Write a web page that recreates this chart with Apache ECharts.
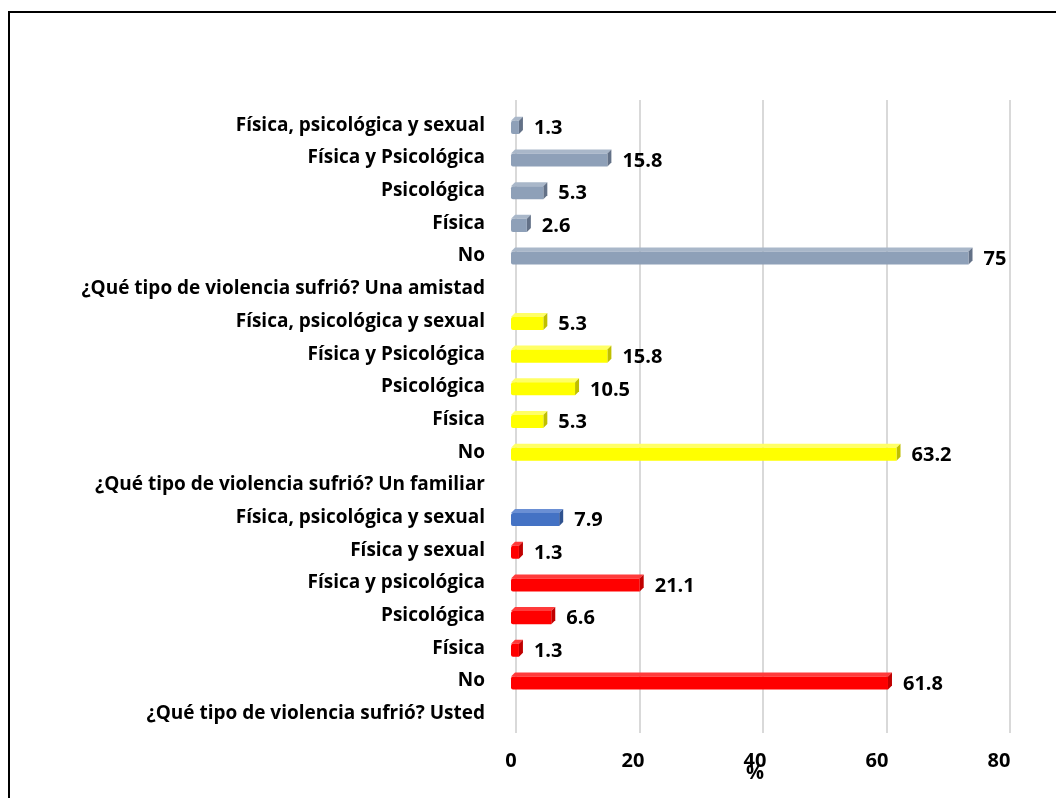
<!DOCTYPE html>
<html>
<head>
<meta charset="utf-8">
<script src="https://cdn.jsdelivr.net/npm/echarts@6/dist/echarts.min.js"></script>
<style>
  html, body { margin: 0; padding: 0; background: #fff; }
  #chart { width: 1056px; height: 798px; }
</style>
</head>
<body>
<div id="chart"></div>
<script>
// rows from bottom to top
var categories = [
  '¿Qué tipo de violencia sufrió? Usted',
  'No', 'Física', 'Psicológica', 'Física y psicológica', 'Física y sexual', 'Física, psicológica y sexual',
  '¿Qué tipo de violencia sufrió? Un familiar',
  'No', 'Física', 'Psicológica', 'Física y Psicológica', 'Física, psicológica y sexual',
  '¿Qué tipo de violencia sufrió? Una amistad',
  'No', 'Física', 'Psicológica', 'Física y Psicológica', 'Física, psicológica y sexual'
];
var values = [
  null,
  61.8, 1.3, 6.6, 21.1, 1.3, 7.9,
  null,
  63.2, 5.3, 10.5, 15.8, 5.3,
  null,
  75, 2.6, 5.3, 15.8, 1.3
];
var xTicks = [0, 20, 40, 60, 80];

// front / side / top colours per row
var red = ['#ff0000', '#c00000', '#ff3b3b'];
var blue = ['#4472c4', '#2f528f', '#6a8fd4'];
var yellow = ['#ffff00', '#bfbf00', '#ffff66'];
var grey = ['#8ea0b8', '#637187', '#a9b7c9'];
var rowColors = [
  null, red, red, red, red, red, blue,
  null, yellow, yellow, yellow, yellow, yellow,
  null, grey, grey, grey, grey, grey
];

var seriesData = [];
values.forEach(function (v, i) {
  if (v !== null) seriesData.push([v, i]);
});

var chart = echarts.init(document.getElementById('chart'));
var font = 'Open Sans';

chart.setOption({
  animation: false,
  backgroundColor: '#fff',
  graphic: [{
    type: 'rect',
    shape: { x: 9, y: 12, width: 1060, height: 800 },
    style: { fill: 'none', stroke: '#000', lineWidth: 2 },
    silent: true,
    z: 100
  }],
  grid: [
    { left: 511, right: 57, top: 109, bottom: 68 },
    // back wall gridlines, shifted for the 3D look
    { left: 516, right: 46, top: 100, bottom: 65 }
  ],
  xAxis: [{
    type: 'value',
    gridIndex: 0,
    min: xTicks[0],
    max: xTicks[xTicks.length - 1],
    interval: 20,
    name: '%',
    nameLocation: 'middle',
    nameGap: 33,
    nameMoveOverlap: false,
    nameTextStyle: { color: '#000', fontWeight: 'bold', fontSize: 20, fontFamily: font },
    axisLine: { show: false },
    axisTick: { show: false },
    axisLabel: { color: '#000', fontWeight: 'bold', fontSize: 20, fontFamily: font, margin: 21 },
    splitLine: { show: false }
  }, {
    type: 'value',
    gridIndex: 1,
    min: xTicks[0],
    max: xTicks[xTicks.length - 1],
    interval: 20,
    axisLine: { show: false },
    axisTick: { show: false },
    axisLabel: { show: false },
    splitLine: { show: true, lineStyle: { color: '#d9d9d9', width: 2 } }
  }],
  yAxis: [{
    type: 'category',
    gridIndex: 0,
    data: categories,
    axisLine: { show: false },
    axisTick: { show: false },
    axisLabel: { color: '#000', fontWeight: 'bold', fontSize: 19, fontFamily: font, margin: 26 },
    splitLine: { show: false }
  }, {
    type: 'value',
    gridIndex: 1,
    show: false
  }],
  series: [{
    type: 'custom',
    xAxisIndex: 0,
    yAxisIndex: 0,
    encode: { x: 0, y: 1 },
    data: seriesData,
    z: 5,
    renderItem: function (params, api) {
      var v = api.value(0);
      var idx = api.value(1);
      var p0 = api.coord([0, idx]);
      var p1 = api.coord([v, idx]);
      var band = api.size([0, 1])[1];
      var h = band * 0.4;
      var d = 4;
      var x0 = p0[0], x1 = p1[0], yc = p0[1] + 2;
      var top = yc - h / 2, bot = yc + h / 2;
      var c = rowColors[idx];
      return {
        type: 'group',
        children: [
          {
            type: 'polygon',
            shape: { points: [[x0, top], [x0 + d, top - d], [x1 + d, top - d], [x1, top]] },
            style: { fill: c[2] }
          },
          {
            type: 'polygon',
            shape: { points: [[x1, top], [x1 + d, top - d], [x1 + d, bot - d], [x1, bot]] },
            style: { fill: c[1] }
          },
          {
            type: 'rect',
            shape: { x: x0, y: top, width: x1 - x0, height: h, r: [2, 0, 0, 2] },
            style: { fill: c[0] }
          },
          {
            type: 'text',
            style: {
              text: String(v),
              x: x1 + d + 11,
              y: yc + 1,
              verticalAlign: 'middle',
              font: 'bold 20px "Open Sans"',
              fill: '#000'
            }
          }
        ]
      };
    }
  }]
});
</script>
</body>
</html>
